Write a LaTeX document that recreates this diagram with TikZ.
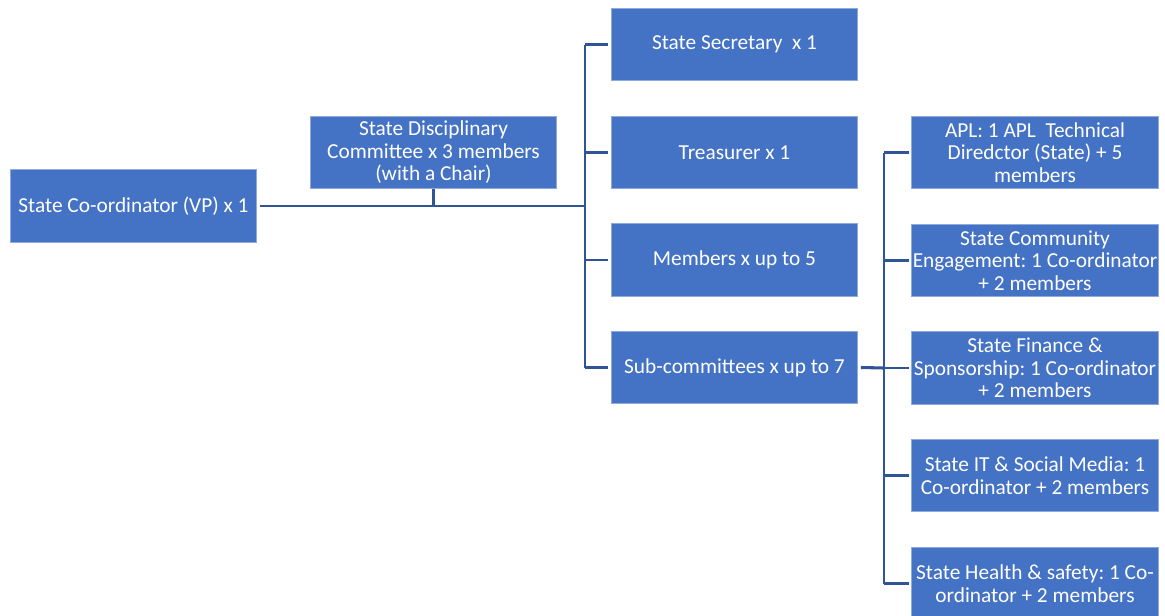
\documentclass[tikz,border=0pt]{standalone}
\usepackage{fontspec}
\setmainfont{Carlito}
\definecolor{boxfill}{RGB}{68,114,196}
\definecolor{boxedge}{RGB}{143,170,220}
\definecolor{linkcol}{RGB}{47,85,151}
\begin{document}
\frenchspacing
\begin{tikzpicture}[x=0.75pt,y=-0.75pt,
  orgbox/.style={rectangle, fill=boxfill, draw=boxedge, line width=0.6pt,
    minimum width=185pt, minimum height=54.5pt, inner sep=0pt,
    text=white, align=center, font=\fontsize{16}{16.9}\selectfont},
  link/.style={draw=linkcol, line width=1.9pt}]
\useasboundingbox (0,0) rectangle (1165,615);
\clip (0,0) rectangle (1165,615);
\fill[white] (0,0) rectangle (1165,615);
\node[orgbox] (root) at (133.5,206) {State Co-ordinator (VP) x 1};
\node[orgbox] (disc) at (433.5,152.5) {State Disciplinary\\Committee x 3 members\\(with a Chair)};
\node[orgbox] (sec) at (734.5,44.5) {State Secretary\ \ x 1};
\node[orgbox] (treas) at (734.5,152.5) {Treasurer x 1};
\node[orgbox] (mem) at (734.5,260) {Members x up to 5};
\node[orgbox] (sub) at (734.5,367.5) {Sub-committees x up to 7};
\node[orgbox] (apl) at (1035,152.5) {APL: 1 APL\ \ Technical\\Diredctor (State) + 5\\members};
\node[orgbox] (comm) at (1035,260.5) {State Community\\Engagement: 1 Co-ordinator\\+ 2 members};
\node[orgbox] (fin) at (1035,368) {State Finance \&\\Sponsorship: 1 Co-ordinator\\+ 2 members};
\node[orgbox] (it) at (1035,475.5) {State IT \& Social Media: 1\\Co-ordinator + 2 members};
\node[orgbox] (hs) at (1035,583.5) {State Health \& safety: 1 Co-\\ordinator + 2 members};
\coordinate (b1) at (585,206);
\coordinate (b2) at (884,368);
\coordinate (dj) at (disc.south |- b1);
% left trunk
\draw[link] ([xshift=2pt]root.east) -- (b1);
\draw[link] (disc.south) -- (dj);
\draw[link] (b1 |- sec) -- (b1 |- sub);
\foreach \n in {sec,treas,mem,sub}
  \draw[link] (b1 |- \n) -- ([xshift=-2pt]\n.west);
% right trunk
\draw[link, line width=2.3pt] ([xshift=2pt]sub.east) -- (b2);
\draw[link] (b2 |- apl) -- (b2 |- hs);
\foreach \n in {apl,comm,fin,it,hs}
  \draw[link] (b2 |- \n) -- ([xshift=-2pt]\n.west);
\end{tikzpicture}
\end{document}
